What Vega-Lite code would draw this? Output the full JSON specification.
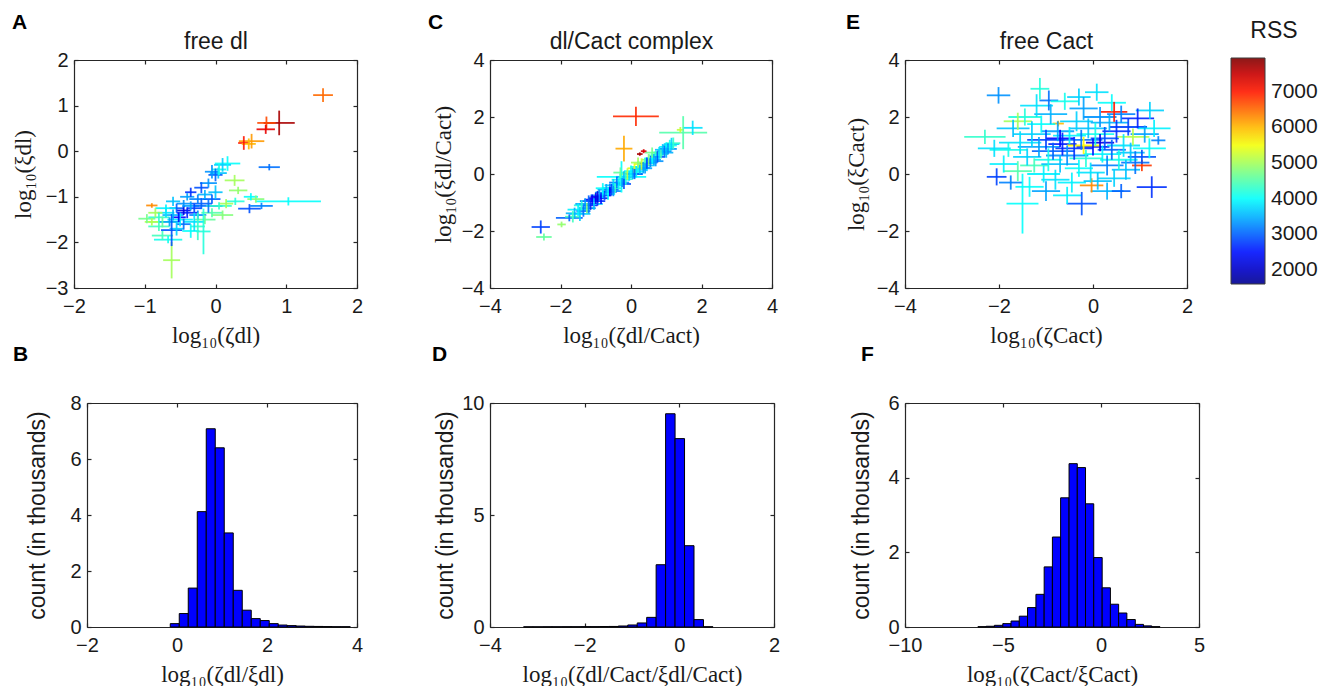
{
"$schema": "https://vega.github.io/schema/vega-lite/v6.json",
"background": "white",
"padding": {"left": 12, "top": 12, "right": 0, "bottom": 0},
"autosize": {"type": "pad"},
"columns": 3,
"align": "none",
"bounds": "flush",
"spacing": {"row": 115, "column": 120},
"resolve": {"scale": {"color": "shared"}, "legend": {"color": "shared"}},
"datasets": {
"A": [
{"x":1.52,"y":1.23,"a":1.38,"b":1.66,"c":1.08,"d":1.38,"r":6500},
{"x":0.9,"y":0.62,"a":0.68,"b":1.12,"c":0.35,"d":0.89,"r":7700},
{"x":0.72,"y":0.62,"a":0.59,"b":0.85,"c":0.48,"d":0.76,"r":6700},
{"x":0.71,"y":0.48,"a":0.58,"b":0.84,"c":0.38,"d":0.58,"r":7300},
{"x":0.51,"y":0.22,"a":0.33,"b":0.69,"c":0.06,"d":0.38,"r":6200},
{"x":0.4,"y":0.18,"a":0.32,"b":0.48,"c":0.03,"d":0.33,"r":7000},
{"x":0.47,"y":0.16,"a":0.37,"b":0.57,"c":0.04,"d":0.28,"r":6000},
{"x":0.76,"y":-0.35,"a":0.61,"b":0.91,"c":-0.42,"d":-0.28,"r":3100},
{"x":0.17,"y":-0.27,"a":-0.01,"b":0.35,"c":-0.43,"d":-0.11,"r":4000},
{"x":0.1,"y":-0.3,"a":-0.02,"b":0.22,"c":-0.45,"d":-0.15,"r":3700},
{"x":0.04,"y":-0.48,"a":-0.08,"b":0.16,"c":-0.6,"d":-0.36,"r":3600},
{"x":0,"y":-0.52,"a":-0.1,"b":0.1,"c":-0.66,"d":-0.38,"r":3000},
{"x":-0.05,"y":-0.45,"a":-0.15,"b":0.05,"c":-0.6,"d":-0.3,"r":3300},
{"x":0.27,"y":-0.64,"a":0.13,"b":0.41,"c":-0.76,"d":-0.52,"r":5000},
{"x":0.32,"y":-0.86,"a":0.19,"b":0.45,"c":-0.94,"d":-0.78,"r":4900},
{"x":1.03,"y":-1.1,"a":0.57,"b":1.49,"c":-1.19,"d":-1.01,"r":4000},
{"x":0.48,"y":-1.26,"a":0.32,"b":0.64,"c":-1.36,"d":-1.16,"r":2900},
{"x":0.65,"y":-1.2,"a":0.49,"b":0.81,"c":-1.27,"d":-1.13,"r":3200},
{"x":0.57,"y":-1.05,"a":0.45,"b":0.69,"c":-1.13,"d":-0.97,"r":4800},
{"x":0.28,"y":-1.1,"a":0.15,"b":0.41,"c":-1.18,"d":-1.02,"r":4200},
{"x":0.5,"y":-1,"a":0.4,"b":0.6,"c":-1.08,"d":-0.92,"r":4000},
{"x":-0.9,"y":-1.19,"a":-0.98,"b":-0.82,"c":-1.24,"d":-1.14,"r":6300},
{"x":-0.97,"y":-1.48,"a":-1.09,"b":-0.85,"c":-1.58,"d":-1.38,"r":4700},
{"x":-0.62,"y":-2.39,"a":-0.74,"b":-0.5,"c":-2.79,"d":-1.99,"r":5000},
{"x":-0.62,"y":-1.73,"a":-0.77,"b":-0.47,"c":-2.08,"d":-1.38,"r":2900},
{"x":-0.17,"y":-1.76,"a":-0.27,"b":-0.07,"c":-2.26,"d":-1.26,"r":4200},
{"x":-0.67,"y":-1.94,"a":-0.87,"b":-0.47,"c":-2.02,"d":-1.86,"r":4100},
{"x":-0.45,"y":-1.3,"a":-0.55,"b":-0.35,"c":-1.4,"d":-1.2,"r":2200},
{"x":-0.8,"y":-1.45,"a":-0.95,"b":-0.65,"c":-1.55,"d":-1.35,"r":4300},
{"x":-0.75,"y":-1.55,"a":-0.95,"b":-0.55,"c":-1.67,"d":-1.43,"r":4600},
{"x":-0.7,"y":-1.35,"a":-0.82,"b":-0.58,"c":-1.45,"d":-1.25,"r":3800},
{"x":-0.6,"y":-1.4,"a":-0.75,"b":-0.45,"c":-1.52,"d":-1.28,"r":3500},
{"x":-0.55,"y":-1.25,"a":-0.65,"b":-0.45,"c":-1.35,"d":-1.15,"r":3000},
{"x":-0.5,"y":-1.5,"a":-0.68,"b":-0.32,"c":-1.65,"d":-1.35,"r":3900},
{"x":-0.45,"y":-1.15,"a":-0.55,"b":-0.35,"c":-1.23,"d":-1.07,"r":3300},
{"x":-0.4,"y":-1.35,"a":-0.55,"b":-0.25,"c":-1.47,"d":-1.23,"r":2600},
{"x":-0.35,"y":-1.2,"a":-0.47,"b":-0.23,"c":-1.3,"d":-1.1,"r":3400},
{"x":-0.3,"y":-1.25,"a":-0.4,"b":-0.2,"c":-1.35,"d":-1.15,"r":2800},
{"x":-0.3,"y":-1.55,"a":-0.45,"b":-0.15,"c":-1.75,"d":-1.35,"r":3800},
{"x":-0.25,"y":-1.05,"a":-0.37,"b":-0.13,"c":-1.15,"d":-0.95,"r":3200},
{"x":-0.2,"y":-1.15,"a":-0.35,"b":-0.05,"c":-1.27,"d":-1.03,"r":3000},
{"x":-0.15,"y":-0.95,"a":-0.25,"b":-0.05,"c":-1.05,"d":-0.85,"r":3500},
{"x":-0.1,"y":-1.2,"a":-0.3,"b":0.1,"c":-1.35,"d":-1.05,"r":3100},
{"x":-0.2,"y":-0.8,"a":-0.3,"b":-0.1,"c":-0.92,"d":-0.68,"r":2900},
{"x":-0.1,"y":-0.7,"a":-0.22,"b":0.02,"c":-0.8,"d":-0.6,"r":3300},
{"x":0,"y":-0.9,"a":-0.1,"b":0.1,"c":-1.05,"d":-0.75,"r":3600},
{"x":-0.05,"y":-1.35,"a":-0.2,"b":0.1,"c":-1.45,"d":-1.25,"r":4500},
{"x":0.1,"y":-1.4,"a":-0.05,"b":0.25,"c":-1.5,"d":-1.3,"r":4800},
{"x":0.05,"y":-1.2,"a":-0.13,"b":0.23,"c":-1.28,"d":-1.12,"r":4300},
{"x":-0.55,"y":-1.7,"a":-0.65,"b":-0.45,"c":-1.85,"d":-1.55,"r":3700},
{"x":-0.8,"y":-1.65,"a":-0.95,"b":-0.65,"c":-1.75,"d":-1.55,"r":4400},
{"x":-0.35,"y":-1.75,"a":-0.47,"b":-0.23,"c":-1.9,"d":-1.6,"r":4000},
{"x":-0.6,"y":-1.1,"a":-0.7,"b":-0.5,"c":-1.2,"d":-1,"r":3600},
{"x":-0.7,"y":-1.25,"a":-0.85,"b":-0.55,"c":-1.33,"d":-1.17,"r":3900},
{"x":-0.85,"y":-1.35,"a":-0.95,"b":-0.75,"c":-1.45,"d":-1.25,"r":5000},
{"x":-0.4,"y":-1,"a":-0.5,"b":-0.3,"c":-1.08,"d":-0.92,"r":3400},
{"x":-0.25,"y":-1.4,"a":-0.37,"b":-0.13,"c":-1.5,"d":-1.3,"r":3200},
{"x":-0.15,"y":-1.5,"a":-0.3,"b":0,"c":-1.6,"d":-1.4,"r":4600},
{"x":-0.45,"y":-1.6,"a":-0.55,"b":-0.35,"c":-1.72,"d":-1.48,"r":3100},
{"x":-0.9,"y":-1.55,"a":-1,"b":-0.8,"c":-1.63,"d":-1.47,"r":5100},
{"x":-0.65,"y":-1.55,"a":-0.8,"b":-0.5,"c":-1.65,"d":-1.45,"r":3400},
{"x":-0.35,"y":-0.9,"a":-0.43,"b":-0.27,"c":-1,"d":-0.8,"r":2700},
{"x":-0.05,"y":-1.05,"a":-0.17,"b":0.07,"c":-1.15,"d":-0.95,"r":3000},
{"x":0.15,"y":-1.15,"a":0.05,"b":0.25,"c":-1.25,"d":-1.05,"r":5000},
{"x":-0.52,"y":-1.45,"a":-0.62,"b":-0.42,"c":-1.55,"d":-1.35,"r":2400},
{"x":-0.25,"y":-1.65,"a":-0.35,"b":-0.15,"c":-1.95,"d":-1.35,"r":4300},
{"x":0.05,"y":-0.4,"a":-0.05,"b":0.15,"c":-0.52,"d":-0.28,"r":4100},
{"x":-0.75,"y":-1.85,"a":-0.9,"b":-0.6,"c":-1.95,"d":-1.75,"r":4400}
],
"C": [
{"x":-2.56,"y":-1.86,"a":-2.82,"b":-2.3,"c":-2.09,"d":-1.63,"r":2800},
{"x":-2.47,"y":-2.21,"a":-2.69,"b":-2.25,"c":-2.33,"d":-2.09,"r":4600},
{"x":-1.97,"y":-1.77,"a":-2.09,"b":-1.85,"c":-1.87,"d":-1.67,"r":4900},
{"x":-1.75,"y":-1.54,"a":-2.13,"b":-1.37,"c":-1.66,"d":-1.42,"r":3000},
{"x":-0.27,"y":-0.1,"a":-0.97,"b":0.43,"c":-0.65,"d":0.45,"r":4000},
{"x":0.09,"y":0,"a":-0.16,"b":0.34,"c":-0.1,"d":0.1,"r":3200},
{"x":1.48,"y":1.45,"a":0.8,"b":2.16,"c":0.87,"d":2.03,"r":4500},
{"x":1.75,"y":1.62,"a":1.47,"b":2.03,"c":1.37,"d":1.87,"r":3800},
{"x":1.4,"y":1.55,"a":1.3,"b":1.5,"c":1.45,"d":1.65,"r":5200},
{"x":-1.6,"y":-1.38,"a":-1.85,"b":-1.35,"c":-1.58,"d":-1.18,"r":3500},
{"x":-1.5,"y":-1.25,"a":-1.8,"b":-1.2,"c":-1.47,"d":-1.03,"r":3900},
{"x":-1.45,"y":-1.4,"a":-1.75,"b":-1.15,"c":-1.65,"d":-1.15,"r":3700},
{"x":-1.4,"y":-1.1,"a":-1.62,"b":-1.18,"c":-1.28,"d":-0.92,"r":4200},
{"x":-1.35,"y":-1.3,"a":-1.55,"b":-1.15,"c":-1.5,"d":-1.1,"r":3100},
{"x":-1.3,"y":-1.05,"a":-1.58,"b":-1.02,"c":-1.25,"d":-0.85,"r":3400},
{"x":-1.25,"y":-1.2,"a":-1.47,"b":-1.03,"c":-1.38,"d":-1.02,"r":4800},
{"x":-1.2,"y":-0.95,"a":-1.45,"b":-0.95,"c":-1.15,"d":-0.75,"r":3000},
{"x":-1.15,"y":-1.1,"a":-1.35,"b":-0.95,"c":-1.26,"d":-0.94,"r":2600},
{"x":-1.1,"y":-0.9,"a":-1.32,"b":-0.88,"c":-1.08,"d":-0.72,"r":2400},
{"x":-1.05,"y":-1.05,"a":-1.3,"b":-0.8,"c":-1.25,"d":-0.85,"r":3600},
{"x":-1,"y":-0.85,"a":-1.2,"b":-0.8,"c":-1.05,"d":-0.65,"r":2300},
{"x":-0.95,"y":-0.95,"a":-1.17,"b":-0.73,"c":-1.11,"d":-0.79,"r":2700},
{"x":-0.9,"y":-0.75,"a":-1.15,"b":-0.65,"c":-0.95,"d":-0.55,"r":3300},
{"x":-0.85,"y":-0.85,"a":-1.05,"b":-0.65,"c":-1.05,"d":-0.65,"r":2500},
{"x":-0.8,"y":-0.65,"a":-1.02,"b":-0.58,"c":-0.85,"d":-0.45,"r":3800},
{"x":-0.75,"y":-0.75,"a":-0.95,"b":-0.55,"c":-0.91,"d":-0.59,"r":2900},
{"x":-0.7,"y":-0.55,"a":-0.95,"b":-0.45,"c":-0.75,"d":-0.35,"r":3500},
{"x":-0.65,"y":-0.7,"a":-0.85,"b":-0.45,"c":-0.9,"d":-0.5,"r":4000},
{"x":-0.6,"y":-0.5,"a":-0.82,"b":-0.38,"c":-0.66,"d":-0.34,"r":3200},
{"x":-0.55,"y":-0.55,"a":-0.75,"b":-0.35,"c":-0.75,"d":-0.35,"r":2800},
{"x":-0.5,"y":-0.4,"a":-0.75,"b":-0.25,"c":-0.62,"d":-0.18,"r":3700},
{"x":-0.45,"y":-0.5,"a":-0.65,"b":-0.25,"c":-0.66,"d":-0.34,"r":4300},
{"x":-0.4,"y":-0.3,"a":-0.62,"b":-0.18,"c":-0.5,"d":-0.1,"r":3100},
{"x":-0.35,"y":-0.35,"a":-0.55,"b":-0.15,"c":-0.55,"d":-0.15,"r":3900},
{"x":-0.3,"y":-0.2,"a":-0.55,"b":-0.05,"c":-0.4,"d":0,"r":4100},
{"x":-0.25,"y":-0.3,"a":-0.45,"b":-0.05,"c":-0.46,"d":-0.14,"r":3300},
{"x":-0.2,"y":-0.1,"a":-0.42,"b":0.02,"c":-0.3,"d":0.1,"r":3600},
{"x":-0.15,"y":-0.18,"a":-0.35,"b":0.05,"c":-0.38,"d":0.02,"r":4200},
{"x":-0.1,"y":0,"a":-0.32,"b":0.12,"c":-0.2,"d":0.2,"r":5200},
{"x":-0.05,"y":-0.08,"a":-0.25,"b":0.15,"c":-0.24,"d":0.08,"r":3800},
{"x":0,"y":0.1,"a":-0.2,"b":0.2,"c":-0.1,"d":0.3,"r":4000},
{"x":0.05,"y":0.02,"a":-0.17,"b":0.27,"c":-0.18,"d":0.22,"r":3500},
{"x":0.1,"y":0.2,"a":-0.1,"b":0.3,"c":0.04,"d":0.36,"r":5500},
{"x":0.15,"y":0.08,"a":-0.07,"b":0.37,"c":-0.12,"d":0.28,"r":3900},
{"x":0.2,"y":0.25,"a":0,"b":0.4,"c":0.05,"d":0.45,"r":4100},
{"x":0.25,"y":0.15,"a":0.05,"b":0.45,"c":-0.01,"d":0.31,"r":3600},
{"x":0.3,"y":0.35,"a":0.08,"b":0.52,"c":0.15,"d":0.55,"r":5300},
{"x":0.35,"y":0.22,"a":0.15,"b":0.55,"c":0.02,"d":0.42,"r":3400},
{"x":0.4,"y":0.4,"a":0.2,"b":0.6,"c":0.24,"d":0.56,"r":4300},
{"x":0.45,"y":0.3,"a":0.23,"b":0.67,"c":0.1,"d":0.5,"r":3700},
{"x":0.5,"y":0.5,"a":0.3,"b":0.7,"c":0.3,"d":0.7,"r":4800},
{"x":0.55,"y":0.4,"a":0.35,"b":0.75,"c":0.24,"d":0.56,"r":3200},
{"x":0.6,"y":0.55,"a":0.38,"b":0.82,"c":0.35,"d":0.75,"r":4000},
{"x":0.65,"y":0.5,"a":0.45,"b":0.85,"c":0.3,"d":0.7,"r":3500},
{"x":0.7,"y":0.65,"a":0.5,"b":0.9,"c":0.49,"d":0.81,"r":4200},
{"x":0.75,"y":0.6,"a":0.53,"b":0.97,"c":0.4,"d":0.8,"r":2900},
{"x":0.8,"y":0.75,"a":0.6,"b":1,"c":0.55,"d":0.95,"r":3800},
{"x":0.85,"y":0.7,"a":0.65,"b":1.05,"c":0.54,"d":0.86,"r":4400},
{"x":0.9,"y":0.85,"a":0.68,"b":1.12,"c":0.65,"d":1.05,"r":3600},
{"x":0.95,"y":0.8,"a":0.75,"b":1.15,"c":0.6,"d":1,"r":3100},
{"x":1,"y":0.95,"a":0.8,"b":1.2,"c":0.79,"d":1.11,"r":3900},
{"x":1.05,"y":0.88,"a":0.8,"b":1.3,"c":0.68,"d":1.08,"r":3300},
{"x":1.1,"y":1,"a":0.9,"b":1.3,"c":0.8,"d":1.2,"r":4100},
{"x":1.15,"y":1.05,"a":0.93,"b":1.37,"c":0.83,"d":1.27,"r":3700},
{"x":1.2,"y":1.08,"a":1,"b":1.4,"c":0.88,"d":1.28,"r":4300},
{"x":-0.95,"y":-0.8,"a":-1.15,"b":-0.75,"c":-1,"d":-0.6,"r":2200},
{"x":-0.6,"y":-0.62,"a":-0.8,"b":-0.4,"c":-0.78,"d":-0.46,"r":2400},
{"x":0.45,"y":0.38,"a":0.25,"b":0.65,"c":0.18,"d":0.58,"r":2800},
{"x":-1.65,"y":-1.5,"a":-1.87,"b":-1.43,"c":-1.7,"d":-1.3,"r":4400},
{"x":-0.8,"y":-0.5,"a":-1,"b":-0.6,"c":-0.68,"d":-0.32,"r":4000},
{"x":-0.5,"y":-0.6,"a":-0.72,"b":-0.28,"c":-0.78,"d":-0.42,"r":3300},
{"x":-0.2,"y":-0.35,"a":-0.4,"b":0,"c":-0.53,"d":-0.17,"r":2900},
{"x":0.1,"y":0,"a":-0.12,"b":0.32,"c":-0.18,"d":0.18,"r":3000},
{"x":0.4,"y":0.2,"a":0.2,"b":0.6,"c":0.02,"d":0.38,"r":3400},
{"x":0.7,"y":0.45,"a":0.48,"b":0.92,"c":0.27,"d":0.63,"r":3300},
{"x":1,"y":0.75,"a":0.8,"b":1.2,"c":0.57,"d":0.93,"r":3500},
{"x":-1.2,"y":-1.2,"a":-1.4,"b":-1,"c":-1.38,"d":-1.02,"r":3200},
{"x":0.2,"y":0.4,"a":0,"b":0.4,"c":0.22,"d":0.58,"r":5000},
{"x":0.6,"y":0.75,"a":0.4,"b":0.8,"c":0.57,"d":0.93,"r":4700},
{"x":-0.3,"y":0.05,"a":-0.5,"b":-0.1,"c":-0.13,"d":0.23,"r":4600},
{"x":0.14,"y":2.02,"a":-0.51,"b":0.79,"c":1.68,"d":2.36,"r":6900},
{"x":-0.2,"y":0.89,"a":-0.44,"b":0.04,"c":0.44,"d":1.34,"r":6100},
{"x":0.25,"y":0.7,"a":0.17,"b":0.33,"c":0.64,"d":0.76,"r":7700},
{"x":0.36,"y":0.8,"a":0.28,"b":0.44,"c":0.73,"d":0.87,"r":7400}
],
"E": [
{"x":-2.01,"y":2.76,"a":-2.26,"b":-1.76,"c":2.47,"d":3.05,"r":3300},
{"x":-1.5,"y":-1.04,"a":-1.84,"b":-1.16,"c":-2.09,"d":0.01,"r":4000},
{"x":-0.24,"y":-1.04,"a":-0.56,"b":0.08,"c":-1.45,"d":-0.63,"r":2900},
{"x":1.25,"y":-0.46,"a":0.93,"b":1.57,"c":-0.84,"d":-0.08,"r":2700},
{"x":1.04,"y":0.3,"a":0.83,"b":1.25,"c":0.1,"d":0.5,"r":6800},
{"x":-0.03,"y":-0.4,"a":-0.28,"b":0.22,"c":-0.65,"d":-0.15,"r":6300},
{"x":0.45,"y":2.18,"a":0.17,"b":0.73,"c":1.83,"d":2.53,"r":7000},
{"x":-0.74,"y":1.77,"a":-0.86,"b":-0.62,"c":1.67,"d":1.87,"r":6000},
{"x":-0.94,"y":2.58,"a":-1.14,"b":-0.74,"c":2.23,"d":2.93,"r":3100},
{"x":-1.13,"y":2.99,"a":-1.33,"b":-0.93,"c":2.61,"d":3.37,"r":4200},
{"x":0.08,"y":2.87,"a":-0.17,"b":0.33,"c":2.57,"d":3.17,"r":3800},
{"x":-2.3,"y":1.3,"a":-2.74,"b":-1.86,"c":1.05,"d":1.55,"r":4300},
{"x":-2.05,"y":-0.1,"a":-2.26,"b":-1.84,"c":-0.4,"d":0.2,"r":2800},
{"x":1.21,"y":2.23,"a":0.91,"b":1.51,"c":1.93,"d":2.53,"r":3700},
{"x":1.39,"y":1.18,"a":1.24,"b":1.54,"c":1.03,"d":1.33,"r":3200},
{"x":1.04,"y":0.6,"a":0.74,"b":1.34,"c":0.35,"d":0.85,"r":2900},
{"x":-1.9,"y":0.35,"a":-2.2,"b":-1.6,"c":0.05,"d":0.65,"r":3900},
{"x":-1.8,"y":0.85,"a":-2.2,"b":-1.4,"c":0.6,"d":1.1,"r":4100},
{"x":-1.7,"y":1.6,"a":-2.05,"b":-1.35,"c":1.3,"d":1.9,"r":3600},
{"x":-1.6,"y":0.1,"a":-1.9,"b":-1.3,"c":-0.25,"d":0.45,"r":4500},
{"x":-1.55,"y":1.1,"a":-2,"b":-1.1,"c":0.7,"d":1.5,"r":3800},
{"x":-1.45,"y":2,"a":-1.8,"b":-1.1,"c":1.7,"d":2.3,"r":4200},
{"x":-1.4,"y":0.6,"a":-1.7,"b":-1.1,"c":0.3,"d":0.9,"r":3700},
{"x":-1.35,"y":-0.45,"a":-1.65,"b":-1.05,"c":-0.8,"d":-0.1,"r":4000},
{"x":-1.3,"y":1.4,"a":-1.7,"b":-0.9,"c":0.95,"d":1.85,"r":3700},
{"x":-1.25,"y":0.3,"a":-1.55,"b":-0.95,"c":0.05,"d":0.55,"r":4400},
{"x":-1.2,"y":2.4,"a":-1.55,"b":-0.85,"c":2,"d":2.8,"r":3800},
{"x":-1.15,"y":0.95,"a":-1.6,"b":-0.7,"c":0.6,"d":1.3,"r":3400},
{"x":-1.1,"y":1.75,"a":-1.4,"b":-0.8,"c":1.45,"d":2.05,"r":4000},
{"x":-1.05,"y":0,"a":-1.4,"b":-0.7,"c":-0.3,"d":0.3,"r":3900},
{"x":-1,"y":1.2,"a":-1.4,"b":-0.6,"c":0.85,"d":1.55,"r":2800},
{"x":-0.95,"y":0.5,"a":-1.25,"b":-0.65,"c":0.1,"d":0.9,"r":4100},
{"x":-0.9,"y":2.1,"a":-1.25,"b":-0.55,"c":1.75,"d":2.45,"r":3500},
{"x":-0.85,"y":0.8,"a":-1.3,"b":-0.4,"c":0.5,"d":1.1,"r":3000},
{"x":-0.8,"y":-0.2,"a":-1.1,"b":-0.5,"c":-0.55,"d":0.15,"r":3800},
{"x":-0.75,"y":1.5,"a":-1.1,"b":-0.4,"c":1.15,"d":1.85,"r":3400},
{"x":-0.7,"y":0.35,"a":-1.1,"b":-0.3,"c":0.05,"d":0.65,"r":3600},
{"x":-0.65,"y":1.05,"a":-0.95,"b":-0.35,"c":0.65,"d":1.45,"r":2600},
{"x":-0.6,"y":2.55,"a":-0.9,"b":-0.3,"c":2.25,"d":2.85,"r":4100},
{"x":-0.55,"y":0.65,"a":-1,"b":-0.1,"c":0.3,"d":1,"r":3300},
{"x":-0.5,"y":1.35,"a":-0.85,"b":-0.15,"c":1.05,"d":1.65,"r":3900},
{"x":-0.45,"y":-0.3,"a":-0.75,"b":-0.15,"c":-0.65,"d":0.05,"r":3900},
{"x":-0.4,"y":0.9,"a":-0.8,"b":0,"c":0.5,"d":1.3,"r":2700},
{"x":-0.35,"y":1.85,"a":-0.7,"b":0,"c":1.5,"d":2.2,"r":3700},
{"x":-0.3,"y":0.2,"a":-0.6,"b":0,"c":-0.1,"d":0.5,"r":4000},
{"x":-0.25,"y":1.2,"a":-0.7,"b":0.2,"c":0.85,"d":1.55,"r":3100},
{"x":-0.2,"y":2.3,"a":-0.5,"b":0.1,"c":1.9,"d":2.7,"r":3400},
{"x":-0.15,"y":0.55,"a":-0.5,"b":0.2,"c":0.25,"d":0.85,"r":4200},
{"x":-0.1,"y":1.6,"a":-0.5,"b":0.3,"c":1.25,"d":1.95,"r":3600},
{"x":-0.05,"y":0.05,"a":-0.35,"b":0.25,"c":-0.3,"d":0.4,"r":3800},
{"x":0,"y":0.95,"a":-0.35,"b":0.35,"c":0.65,"d":1.25,"r":2500},
{"x":0.05,"y":1.4,"a":-0.35,"b":0.45,"c":1,"d":1.8,"r":4100},
{"x":0.1,"y":-0.25,"a":-0.2,"b":0.4,"c":-0.55,"d":0.05,"r":3600},
{"x":0.15,"y":2,"a":-0.2,"b":0.5,"c":1.65,"d":2.35,"r":3300},
{"x":0.2,"y":0.7,"a":-0.2,"b":0.6,"c":0.4,"d":1,"r":3900},
{"x":0.25,"y":1.25,"a":-0.05,"b":0.55,"c":0.85,"d":1.65,"r":2900},
{"x":0.3,"y":0.3,"a":-0.05,"b":0.65,"c":-0.05,"d":0.65,"r":3200},
{"x":0.35,"y":1.8,"a":-0.05,"b":0.75,"c":1.5,"d":2.1,"r":3500},
{"x":0.4,"y":0.85,"a":0.1,"b":0.7,"c":0.5,"d":1.2,"r":3000},
{"x":0.45,"y":-0.15,"a":0.1,"b":0.8,"c":-0.45,"d":0.15,"r":3700},
{"x":0.5,"y":1.5,"a":0.2,"b":0.8,"c":1.1,"d":1.9,"r":2700},
{"x":0.55,"y":0.5,"a":0.15,"b":0.95,"c":0.15,"d":0.85,"r":4100},
{"x":0.6,"y":2.1,"a":0.3,"b":0.9,"c":1.8,"d":2.4,"r":3200},
{"x":0.65,"y":1,"a":0.3,"b":1,"c":0.6,"d":1.4,"r":3800},
{"x":0.7,"y":0.15,"a":0.4,"b":1,"c":-0.2,"d":0.5,"r":3600},
{"x":0.75,"y":1.65,"a":0.35,"b":1.15,"c":1.35,"d":1.95,"r":2800},
{"x":0.8,"y":0.75,"a":0.5,"b":1.1,"c":0.4,"d":1.1,"r":3600},
{"x":0.85,"y":1.3,"a":0.5,"b":1.2,"c":1,"d":1.6,"r":5100},
{"x":0.9,"y":0.4,"a":0.6,"b":1.2,"c":0,"d":0.8,"r":3100},
{"x":0.95,"y":1.95,"a":0.6,"b":1.3,"c":1.6,"d":2.3,"r":2600},
{"x":1.1,"y":1.4,"a":0.8,"b":1.4,"c":1.1,"d":1.7,"r":3400},
{"x":1.2,"y":0.9,"a":0.85,"b":1.55,"c":0.55,"d":1.25,"r":4000},
{"x":-1.75,"y":-0.3,"a":-2,"b":-1.5,"c":-0.55,"d":-0.05,"r":3200},
{"x":-0.55,"y":-0.75,"a":-0.85,"b":-0.25,"c":-1.05,"d":-0.45,"r":3900},
{"x":0.3,"y":-0.6,"a":-0.05,"b":0.65,"c":-0.9,"d":-0.3,"r":3500},
{"x":-1,"y":-0.6,"a":-1.3,"b":-0.7,"c":-0.95,"d":-0.25,"r":3400},
{"x":-0.3,"y":2.7,"a":-0.55,"b":-0.05,"c":2.4,"d":3,"r":3700},
{"x":0.6,"y":-0.6,"a":0.4,"b":0.8,"c":-0.85,"d":-0.35,"r":3000},
{"x":-2.1,"y":0.9,"a":-2.45,"b":-1.75,"c":0.6,"d":1.2,"r":3800},
{"x":-0.7,"y":1.25,"a":-1,"b":-0.4,"c":0.95,"d":1.55,"r":2400},
{"x":0.15,"y":1.1,"a":-0.15,"b":0.45,"c":0.8,"d":1.4,"r":2200},
{"x":-0.2,"y":1,"a":-0.55,"b":0.15,"c":0.7,"d":1.3,"r":5600},
{"x":1.3,"y":1.6,"a":0.95,"b":1.65,"c":1.3,"d":1.9,"r":3900},
{"x":-1.6,"y":1.85,"a":-1.9,"b":-1.3,"c":1.55,"d":2.15,"r":5000},
{"x":0.4,"y":2.5,"a":0.1,"b":0.7,"c":2.2,"d":2.8,"r":4000}
],
"B": [
{"lo":-0.15,"hi":0.05,"n":0.12},{"lo":0.05,"hi":0.25,"n":0.48},{"lo":0.25,"hi":0.45,"n":1.39},{"lo":0.45,"hi":0.65,"n":4.12},{"lo":0.65,"hi":0.85,"n":7.08},{"lo":0.85,"hi":1.05,"n":6.4},{"lo":1.05,"hi":1.25,"n":3.36},{"lo":1.25,"hi":1.45,"n":1.31},{"lo":1.45,"hi":1.65,"n":0.6},{"lo":1.65,"hi":1.85,"n":0.3},{"lo":1.85,"hi":2.05,"n":0.23},{"lo":2.05,"hi":2.25,"n":0.12},{"lo":2.25,"hi":2.45,"n":0.07},{"lo":2.45,"hi":2.65,"n":0.05},{"lo":2.65,"hi":2.85,"n":0.035},{"lo":2.85,"hi":3.05,"n":0.025},{"lo":3.05,"hi":3.25,"n":0.02},{"lo":3.25,"hi":3.45,"n":0.015},{"lo":3.45,"hi":3.65,"n":0.01},{"lo":3.65,"hi":3.85,"n":0.01}
],
"D": [
{"lo":-3.29,"hi":-3.09,"n":0.008},{"lo":-3.09,"hi":-2.89,"n":0.008},{"lo":-2.89,"hi":-2.69,"n":0.01},{"lo":-2.69,"hi":-2.49,"n":0.01},{"lo":-2.49,"hi":-2.29,"n":0.012},{"lo":-2.29,"hi":-2.09,"n":0.012},{"lo":-2.09,"hi":-1.89,"n":0.015},{"lo":-1.89,"hi":-1.69,"n":0.015},{"lo":-1.69,"hi":-1.49,"n":0.02},{"lo":-1.49,"hi":-1.29,"n":0.025},{"lo":-1.29,"hi":-1.09,"n":0.045},{"lo":-1.09,"hi":-0.89,"n":0.09},{"lo":-0.89,"hi":-0.69,"n":0.18},{"lo":-0.69,"hi":-0.49,"n":0.43},{"lo":-0.49,"hi":-0.29,"n":2.78},{"lo":-0.29,"hi":-0.09,"n":9.52},{"lo":-0.09,"hi":0.11,"n":8.41},{"lo":0.11,"hi":0.31,"n":3.63},{"lo":0.31,"hi":0.51,"n":0.33},{"lo":0.51,"hi":0.71,"n":0.01}
],
"F": [
{"lo":-6.28,"hi":-5.86,"n":0.008},{"lo":-5.86,"hi":-5.44,"n":0.02},{"lo":-5.44,"hi":-5.01,"n":0.045},{"lo":-5.01,"hi":-4.59,"n":0.09},{"lo":-4.59,"hi":-4.17,"n":0.16},{"lo":-4.17,"hi":-3.75,"n":0.29},{"lo":-3.75,"hi":-3.32,"n":0.52},{"lo":-3.32,"hi":-2.9,"n":0.875},{"lo":-2.9,"hi":-2.48,"n":1.61},{"lo":-2.48,"hi":-2.06,"n":2.41},{"lo":-2.06,"hi":-1.63,"n":3.46},{"lo":-1.63,"hi":-1.21,"n":4.375},{"lo":-1.21,"hi":-0.79,"n":4.27},{"lo":-0.79,"hi":-0.37,"n":3.3},{"lo":-0.37,"hi":0.06,"n":1.86},{"lo":0.06,"hi":0.48,"n":1.05},{"lo":0.48,"hi":0.9,"n":0.61},{"lo":0.9,"hi":1.32,"n":0.375},{"lo":1.32,"hi":1.75,"n":0.2},{"lo":1.75,"hi":2.17,"n":0.07},{"lo":2.17,"hi":2.59,"n":0.03},{"lo":2.59,"hi":3.01,"n":0.008}
]
},
"concat": [
{
"width": 296, "height": 228,
"data": {"name": "A"},
"title": {"text": "A", "dx": -62, "offset": -3},
"layer": [
{"mark": {"type": "rule", "strokeWidth": 1.8, "opacity": 0.9, "clip": true},
 "encoding": {
  "x": {"field": "a", "type": "quantitative", "scale": {"domain": [-2, 2], "range": [0, 283], "nice": false, "zero": false}, "axis": {"orient": "bottom", "values": [-2, -1, 0, 1, 2], "title": "log₁₀(ζdl)", "titlePadding": 8}},
  "x2": {"field": "b"},
  "y": {"field": "y", "type": "quantitative", "scale": {"domain": [-3, 2], "nice": false, "zero": false}, "axis": {"orient": "left", "values": [-3, -2, -1, 0, 1, 2], "title": "log₁₀(ξdl)", "titlePadding": 10}},
  "color": {"field": "r", "type": "quantitative", "scale": {"domain": [1600, 2394, 3981, 5569, 7156, 7950], "range": ["#00008f", "#0000ff", "#00ffff", "#ffff00", "#ff0000", "#800000"], "interpolate": "rgb"}, "legend": {"title": "RSS", "orient": "none", "legendX": 1157, "legendY": -40, "direction": "vertical", "gradientLength": 226, "gradientThickness": 34, "values": [2000, 3000, 4000, 5000, 6000, 7000], "format": "d", "labelFont": "Liberation Sans", "labelFontSize": 21, "labelOffset": 6, "labelColor": "#1a1a1a", "titleFont": "Liberation Sans", "titleFontSize": 23, "titleFontWeight": "normal", "titleColor": "#1a1a1a", "titlePadding": 15, "titleAnchor": "middle", "gradientStrokeColor": "#262626", "gradientStrokeWidth": 1, "padding": 0}}
 }},
{"mark": {"type": "rule", "strokeWidth": 1.8, "opacity": 0.9, "clip": true},
 "encoding": {
  "x": {"field": "x", "type": "quantitative", "axis": {"orient": "top", "values": [-2, -1, 0, 1, 2], "labels": false, "title": "free dl", "titleFont": "Liberation Sans", "titlePadding": 6}},
  "y": {"field": "c", "type": "quantitative", "axis": {"orient": "right", "values": [-3, -2, -1, 0, 1, 2], "labels": false, "title": null, "offset": -13}},
  "y2": {"field": "d"},
  "color": {"field": "r", "type": "quantitative", "scale": {"domain": [1600, 2394, 3981, 5569, 7156, 7950], "range": ["#00008f", "#0000ff", "#00ffff", "#ffff00", "#ff0000", "#800000"], "interpolate": "rgb"}, "legend": {"title": "RSS", "orient": "none", "legendX": 1157, "legendY": -40, "direction": "vertical", "gradientLength": 226, "gradientThickness": 34, "values": [2000, 3000, 4000, 5000, 6000, 7000], "format": "d", "labelFont": "Liberation Sans", "labelFontSize": 21, "labelOffset": 6, "labelColor": "#1a1a1a", "titleFont": "Liberation Sans", "titleFontSize": 23, "titleFontWeight": "normal", "titleColor": "#1a1a1a", "titlePadding": 15, "titleAnchor": "middle", "gradientStrokeColor": "#262626", "gradientStrokeWidth": 1, "padding": 0}}
 }}
],
"resolve": {"axis": {"x": "independent", "y": "independent"}}
},
{
"width": 295, "height": 228,
"data": {"name": "C"},
"title": {"text": "C", "dx": -62, "offset": -3},
"layer": [
{"mark": {"type": "rule", "strokeWidth": 1.8, "opacity": 0.9, "clip": true},
 "encoding": {
  "x": {"field": "a", "type": "quantitative", "scale": {"domain": [-4, 4], "range": [0, 282], "nice": false, "zero": false}, "axis": {"orient": "bottom", "values": [-4, -2, 0, 2, 4], "title": "log₁₀(ζdl/Cact)", "titlePadding": 8}},
  "x2": {"field": "b"},
  "y": {"field": "y", "type": "quantitative", "scale": {"domain": [-4, 4], "nice": false, "zero": false}, "axis": {"orient": "left", "values": [-4, -2, 0, 2, 4], "title": "log₁₀(ξdl/Cact)", "titlePadding": 6}},
  "color": {"field": "r", "type": "quantitative", "scale": {"domain": [1600, 2394, 3981, 5569, 7156, 7950], "range": ["#00008f", "#0000ff", "#00ffff", "#ffff00", "#ff0000", "#800000"], "interpolate": "rgb"}, "legend": {"title": "RSS", "orient": "none", "legendX": 1157, "legendY": -40, "direction": "vertical", "gradientLength": 226, "gradientThickness": 34, "values": [2000, 3000, 4000, 5000, 6000, 7000], "format": "d", "labelFont": "Liberation Sans", "labelFontSize": 21, "labelOffset": 6, "labelColor": "#1a1a1a", "titleFont": "Liberation Sans", "titleFontSize": 23, "titleFontWeight": "normal", "titleColor": "#1a1a1a", "titlePadding": 15, "titleAnchor": "middle", "gradientStrokeColor": "#262626", "gradientStrokeWidth": 1, "padding": 0}}
 }},
{"mark": {"type": "rule", "strokeWidth": 1.8, "opacity": 0.9, "clip": true},
 "encoding": {
  "x": {"field": "x", "type": "quantitative", "axis": {"orient": "top", "values": [-4, -2, 0, 2, 4], "labels": false, "title": "dl/Cact complex", "titleFont": "Liberation Sans", "titlePadding": 6}},
  "y": {"field": "c", "type": "quantitative", "axis": {"orient": "right", "values": [-4, -2, 0, 2, 4], "labels": false, "title": null, "offset": -13}},
  "y2": {"field": "d"},
  "color": {"field": "r", "type": "quantitative", "scale": {"domain": [1600, 2394, 3981, 5569, 7156, 7950], "range": ["#00008f", "#0000ff", "#00ffff", "#ffff00", "#ff0000", "#800000"], "interpolate": "rgb"}, "legend": {"title": "RSS", "orient": "none", "legendX": 1157, "legendY": -40, "direction": "vertical", "gradientLength": 226, "gradientThickness": 34, "values": [2000, 3000, 4000, 5000, 6000, 7000], "format": "d", "labelFont": "Liberation Sans", "labelFontSize": 21, "labelOffset": 6, "labelColor": "#1a1a1a", "titleFont": "Liberation Sans", "titleFontSize": 23, "titleFontWeight": "normal", "titleColor": "#1a1a1a", "titlePadding": 15, "titleAnchor": "middle", "gradientStrokeColor": "#262626", "gradientStrokeWidth": 1, "padding": 0}}
 }}
],
"resolve": {"axis": {"x": "independent", "y": "independent"}}
},
{
"width": 282, "height": 228,
"data": {"name": "E"},
"title": {"text": "E", "dx": -59, "offset": -3},
"layer": [
{"mark": {"type": "rule", "strokeWidth": 1.8, "opacity": 0.9, "clip": true},
 "encoding": {
  "x": {"field": "a", "type": "quantitative", "scale": {"domain": [-4, 2], "nice": false, "zero": false}, "axis": {"orient": "bottom", "values": [-4, -2, 0, 2], "title": "log₁₀(ζCact)", "titlePadding": 8}},
  "x2": {"field": "b"},
  "y": {"field": "y", "type": "quantitative", "scale": {"domain": [-4, 4], "nice": false, "zero": false}, "axis": {"orient": "left", "values": [-4, -2, 0, 2, 4], "title": "log₁₀(ξCact)", "titlePadding": 8}},
  "color": {"field": "r", "type": "quantitative", "scale": {"domain": [1600, 2394, 3981, 5569, 7156, 7950], "range": ["#00008f", "#0000ff", "#00ffff", "#ffff00", "#ff0000", "#800000"], "interpolate": "rgb"}, "legend": {"title": "RSS", "orient": "none", "legendX": 1157, "legendY": -40, "direction": "vertical", "gradientLength": 226, "gradientThickness": 34, "values": [2000, 3000, 4000, 5000, 6000, 7000], "format": "d", "labelFont": "Liberation Sans", "labelFontSize": 21, "labelOffset": 6, "labelColor": "#1a1a1a", "titleFont": "Liberation Sans", "titleFontSize": 23, "titleFontWeight": "normal", "titleColor": "#1a1a1a", "titlePadding": 15, "titleAnchor": "middle", "gradientStrokeColor": "#262626", "gradientStrokeWidth": 1, "padding": 0}}
 }},
{"mark": {"type": "rule", "strokeWidth": 1.8, "opacity": 0.9, "clip": true},
 "encoding": {
  "x": {"field": "x", "type": "quantitative", "axis": {"orient": "top", "values": [-4, -2, 0, 2], "labels": false, "title": "free Cact", "titleFont": "Liberation Sans", "titlePadding": 6}},
  "y": {"field": "c", "type": "quantitative", "axis": {"orient": "right", "values": [-4, -2, 0, 2, 4], "labels": false, "title": null}},
  "y2": {"field": "d"},
  "color": {"field": "r", "type": "quantitative", "scale": {"domain": [1600, 2394, 3981, 5569, 7156, 7950], "range": ["#00008f", "#0000ff", "#00ffff", "#ffff00", "#ff0000", "#800000"], "interpolate": "rgb"}, "legend": {"title": "RSS", "orient": "none", "legendX": 1157, "legendY": -40, "direction": "vertical", "gradientLength": 226, "gradientThickness": 34, "values": [2000, 3000, 4000, 5000, 6000, 7000], "format": "d", "labelFont": "Liberation Sans", "labelFontSize": 21, "labelOffset": 6, "labelColor": "#1a1a1a", "titleFont": "Liberation Sans", "titleFontSize": 23, "titleFontWeight": "normal", "titleColor": "#1a1a1a", "titlePadding": 15, "titleAnchor": "middle", "gradientStrokeColor": "#262626", "gradientStrokeWidth": 1, "padding": 0}}
 }}
],
"resolve": {"axis": {"x": "independent", "y": "independent"}}
},
{
"width": 294, "height": 224,
"data": {"name": "B"},
"title": {"text": "B", "dx": -61, "offset": 28},
"layer": [
{"mark": {"type": "rect", "fill": "#0000ff", "stroke": "#000000", "strokeWidth": 1},
 "encoding": {
  "x": {"field": "lo", "type": "quantitative", "scale": {"domain": [-2, 4], "range": [13, 283], "nice": false, "zero": false}, "axis": {"orient": "bottom", "values": [-2, 0, 2, 4], "title": "log₁₀(ζdl/ξdl)", "titlePadding": 8}},
  "x2": {"field": "hi"},
  "y": {"field": "n", "type": "quantitative", "scale": {"domain": [0, 8], "nice": false}, "axis": {"orient": "left", "values": [0, 2, 4, 6, 8], "title": "count (in thousands)", "titleFont": "Liberation Sans", "titlePadding": 20, "offset": -13}},
  "y2": {"datum": 0}
 }},
{"mark": {"type": "point", "opacity": 0, "size": 1},
 "encoding": {
  "x": {"field": "lo", "type": "quantitative", "axis": {"orient": "top", "values": [-2, 0, 2, 4], "labels": false, "title": null}},
  "y": {"field": "n", "type": "quantitative", "axis": {"orient": "right", "values": [0, 2, 4, 6, 8], "labels": false, "title": null, "offset": -11}}
 }}
],
"resolve": {"axis": {"x": "independent", "y": "independent"}}
},
{
"width": 284, "height": 224,
"data": {"name": "D"},
"title": {"text": "D", "dx": -58, "offset": 28},
"layer": [
{"mark": {"type": "rect", "fill": "#0000ff", "stroke": "#000000", "strokeWidth": 1},
 "encoding": {
  "x": {"field": "lo", "type": "quantitative", "scale": {"domain": [-4, 2], "nice": false, "zero": false}, "axis": {"orient": "bottom", "values": [-4, -2, 0, 2], "title": "log₁₀(ζdl/Cact/ξdl/Cact)", "titlePadding": 8}},
  "x2": {"field": "hi"},
  "y": {"field": "n", "type": "quantitative", "scale": {"domain": [0, 10], "nice": false}, "axis": {"orient": "left", "values": [0, 5, 10], "title": "count (in thousands)", "titleFont": "Liberation Sans", "titlePadding": 4}},
  "y2": {"datum": 0}
 }},
{"mark": {"type": "point", "opacity": 0, "size": 1},
 "encoding": {
  "x": {"field": "lo", "type": "quantitative", "axis": {"orient": "top", "values": [-4, -2, 0, 2], "labels": false, "title": null}},
  "y": {"field": "n", "type": "quantitative", "axis": {"orient": "right", "values": [0, 5, 10], "labels": false, "title": null}}
 }}
],
"resolve": {"axis": {"x": "independent", "y": "independent"}}
},
{
"width": 294, "height": 224,
"data": {"name": "F"},
"title": {"text": "F", "dx": -44, "offset": 28},
"layer": [
{"mark": {"type": "rect", "fill": "#0000ff", "stroke": "#000000", "strokeWidth": 1},
 "encoding": {
  "x": {"field": "lo", "type": "quantitative", "scale": {"domain": [-10, 5], "nice": false, "zero": false}, "axis": {"orient": "bottom", "values": [-10, -5, 0, 5], "title": "log₁₀(ζCact/ξCact)", "titlePadding": 8}},
  "x2": {"field": "hi"},
  "y": {"field": "n", "type": "quantitative", "scale": {"domain": [0, 6], "nice": false}, "axis": {"orient": "left", "values": [0, 2, 4, 6], "title": "count (in thousands)", "titleFont": "Liberation Sans", "titlePadding": 14}},
  "y2": {"datum": 0}
 }},
{"mark": {"type": "point", "opacity": 0, "size": 1},
 "encoding": {
  "x": {"field": "lo", "type": "quantitative", "axis": {"orient": "top", "values": [-10, -5, 0, 5], "labels": false, "title": null}},
  "y": {"field": "n", "type": "quantitative", "axis": {"orient": "right", "values": [0, 2, 4, 6], "labels": false, "title": null}}
 }}
],
"resolve": {"axis": {"x": "independent", "y": "independent"}}
}
],
"config": {
 "view": {"stroke": null},
 "axis": {"grid": false, "domainColor": "#262626", "domainWidth": 1.2, "tickColor": "#262626", "tickWidth": 1.2, "tickSize": -4, "labelFont": "Liberation Sans", "labelFontSize": 20, "labelColor": "#1a1a1a", "labelFlush": false, "labelOverlap": false, "titleFont": "Liberation Serif", "titleFontSize": 23, "titleFontWeight": "normal", "titleColor": "#1a1a1a"},
 "axisX": {"labelPadding": 12},
 "axisY": {"labelPadding": 10},
 "title": {"font": "Liberation Sans", "fontSize": 21, "fontWeight": "bold", "anchor": "start", "frame": "group", "color": "#000000"}
}
}
